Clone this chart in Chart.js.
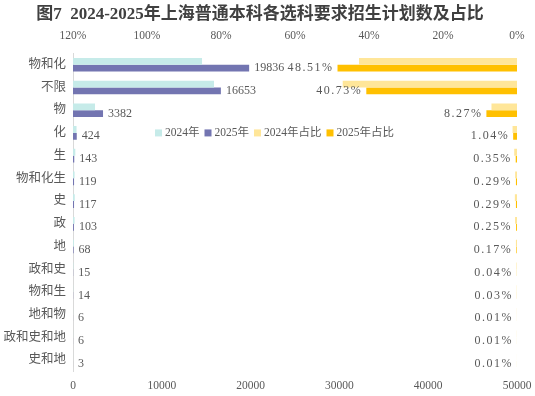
<!DOCTYPE html>
<html>
<head>
<meta charset="utf-8">
<script src="https://cdn.jsdelivr.net/npm/chart.js@4.4.1/dist/chart.umd.min.js"></script>
<style>
  body { margin: 0; background: #fff; }
  #wrap { width: 535px; height: 396px; }
</style>
</head>
<body>
<div id="wrap"><canvas id="chart"></canvas></div>
<script>
const categories = ['物和化', '不限', '物', '化', '生', '物和化生', '史', '政', '地', '政和史', '物和生', '地和物', '政和史和地', '史和地'];
const seriesNames = ['2024年', '2025年', '2024年占比', '2025年占比'];
const count2024 = [14530, 15880, 2480, 400, 260, 180, 200, 180, 100, 40, 20, 10, 10, 5];
const count2025 = [19836, 16653, 3382, 424, 143, 119, 117, 103, 68, 15, 14, 6, 6, 3];
const share2024 = [42.7, 47.1, 6.9, 1.2, 0.75, 0.5, 0.58, 0.52, 0.29, 0.12, 0.06, 0.03, 0.03, 0.01];
const share2025 = [48.51, 40.73, 8.27, 1.04, 0.35, 0.29, 0.29, 0.25, 0.17, 0.04, 0.03, 0.01, 0.01, 0.01];
const countTicks = [0, 10000, 20000, 30000, 40000, 50000];
const shareTicks = [0, 20, 40, 60, 80, 100, 120];

const colors = ['#c6ebe9', '#7375b1', '#ffe699', '#ffc000'];
const textColor = '#595959';
const serif = '"Liberation Serif", "Noto Sans CJK SC", serif';

//labels next to the 2025 bars
const valueLabels = {
  id: 'valueLabels',
  afterDatasetsDraw(chart) {
    const ctx = chart.ctx;
    ctx.save();
    ctx.fillStyle = textColor;
    ctx.textBaseline = 'middle';
    ctx.font = '12px ' + serif;
    ctx.textAlign = 'left';
    chart.getDatasetMeta(1).data.forEach((bar, i) => {
      ctx.fillText(count2025[i], bar.x + 5, bar.y);
    });
    ctx.letterSpacing = '1.5px';
    ctx.textAlign = 'right';
    chart.getDatasetMeta(3).data.forEach((bar, i) => {
      ctx.fillText(share2025[i].toFixed(2) + '%', bar.x - 4, bar.y);
    });
    ctx.restore();
  }
};

//legend sits inside the plot, on the 化 row
const innerLegend = {
  id: 'innerLegend',
  afterDatasetsDraw(chart) {
    const ctx = chart.ctx;
    const y = chart.scales.y.getPixelForValue(3);
    let x = chart.chartArea.left + 82;
    ctx.save();
    ctx.font = '11.5px ' + serif;
    ctx.textBaseline = 'middle';
    ctx.textAlign = 'left';
    seriesNames.forEach((name, i) => {
      ctx.fillStyle = colors[i];
      ctx.fillRect(x, y - 3.5, 7, 7);
      x += 10;
      ctx.fillStyle = textColor;
      ctx.fillText(name, x, y);
      x += ctx.measureText(name).width + 5;
    });
    ctx.restore();
  }
};

new Chart(document.getElementById('chart'), {
  type: 'bar',
  data: {
    labels: categories,
    datasets: [
      { label: seriesNames[0], data: count2024, backgroundColor: colors[0], xAxisID: 'x', stack: 'a' },
      { label: seriesNames[1], data: count2025, backgroundColor: colors[1], xAxisID: 'x', stack: 'b' },
      { label: seriesNames[2], data: share2024, backgroundColor: colors[2], xAxisID: 'x2', stack: 'a' },
      { label: seriesNames[3], data: share2025, backgroundColor: colors[3], xAxisID: 'x2', stack: 'b' }
    ]
  },
  options: {
    indexAxis: 'y',
    responsive: true,
    maintainAspectRatio: false,
    animation: false,
    datasets: { bar: { categoryPercentage: 0.6, barPercentage: 1.0 } },
    layout: { padding: { left: 3, right: 18, top: 2, bottom: 2 } },
    plugins: {
      legend: { display: false },
      tooltip: { enabled: false },
      title: {
        display: true,
        text: '图7  2024-2025年上海普通本科各选科要求招生计划数及占比',
        color: '#404040',
        font: { family: serif, size: 17, weight: 'bold' },
        padding: { top: 2, bottom: 0 }
      }
    },
    scales: {
      x: {
        position: 'bottom',
        min: 0,
        max: 50000,
        stacked: false,
        afterBuildTicks: (s) => { s.ticks = countTicks.map(v => ({ value: v })); },
        afterFit: (s) => { s.height = 22.5; s.paddingRight = 0; },
        grid: { display: false, drawTicks: false },
        border: { display: false },
        ticks: { color: textColor, font: { family: serif, size: 11.5 }, padding: 7.5, maxRotation: 0, callback: (v) => String(v) }
      },
      x2: {
        position: 'top',
        min: 0,
        max: 120,
        reverse: true,
        stacked: false,
        afterBuildTicks: (s) => { s.ticks = shareTicks.map(v => ({ value: v })); },
        afterFit: (s) => { s.height = 29; s.paddingRight = 0; },
        grid: { display: false, drawTicks: false },
        border: { display: false },
        ticks: { color: textColor, font: { family: serif, size: 11.5 }, padding: 11, maxRotation: 0, callback: (v) => v + '%' }
      },
      y: {
        grid: { display: false, drawTicks: false },
        border: { display: true, color: '#d9d9d9' },
        afterFit: (s) => { s.width = 70; },
        ticks: { color: textColor, font: { family: serif, size: 12.5 }, padding: 7 }
      }
    }
  },
  plugins: [valueLabels, innerLegend]
});
</script>
</body>
</html>
